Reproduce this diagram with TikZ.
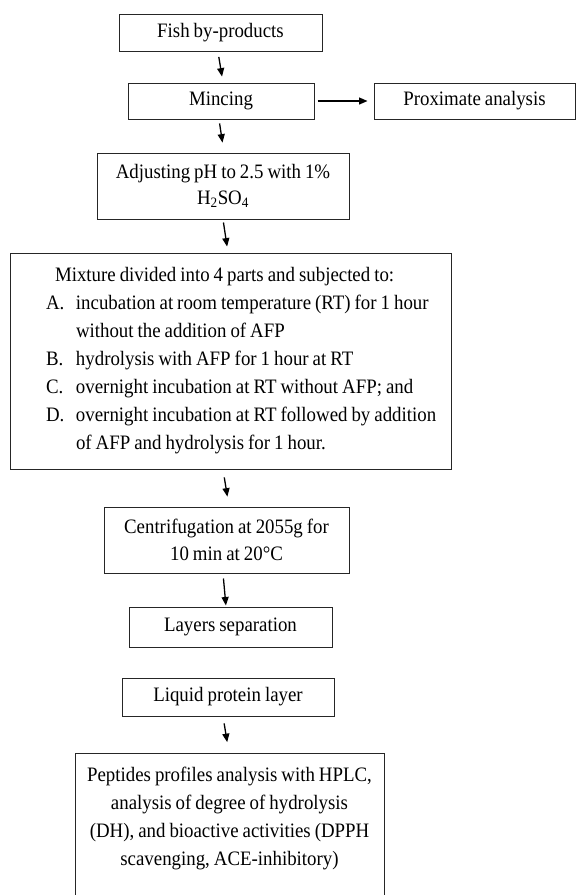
\documentclass[tikz,border=0pt]{standalone}
\usepackage{fontspec}
\setmainfont{Liberation Serif}[FakeStretch=0.92, WordSpace=0.85]
\usetikzlibrary{arrows.meta}
\newcommand{\boxfont}{\fontsize{20.5}{28}\selectfont}
\newcommand{\tightfont}{\fontsize{20.5}{26.5}\selectfont}
\newcommand{\mixline}[2]{\makebox[441pt][l]{\hspace*{#1}#2}}
\newcommand{\mixitem}[2]{\makebox[441pt][l]{\hspace*{36pt}\makebox[30pt][l]{#1}#2}}
\tikzset{
  flowbox/.style={draw=black!85, line width=1pt, inner sep=0pt, align=center, font=\boxfont},
  flowarr/.style={-{Triangle[length=8.5pt,width=7pt]}, line width=1.3pt, black}
}
\begin{document}
\begin{tikzpicture}[x=1pt,y=-1pt]
\useasboundingbox (0,0) rectangle (576,895);
\clip (0,0) rectangle (576,895);
\fill[white] (0,0) rectangle (576,895);

\node[flowbox, minimum width=203pt, minimum height=37pt] (fish) at (220.5,33) {Fish by-products};
\node[flowbox, minimum width=186pt, minimum height=36pt] (mince) at (221,101) {Mincing};
\node[flowbox, minimum width=201pt, minimum height=36pt] (prox) at (474.5,101) {Proximate analysis};
\node[flowbox, font=\tightfont, minimum width=252pt, minimum height=66pt] (ph) at (223,186) {Adjusting pH to 2.5 with 1\%\\H\textsubscript{2}SO\textsubscript{4}};
\node[flowbox, align=left, minimum width=441pt, minimum height=216pt] (mix) at (230.5,361) {%
\mixline{45pt}{Mixture divided into 4 parts and subjected to:}\\
\mixitem{A.}{incubation at room temperature (RT) for 1 hour}\\
\mixline{66pt}{without the addition of AFP}\\
\mixitem{B.}{hydrolysis with AFP for 1 hour at RT}\\
\mixitem{C.}{overnight incubation at RT without AFP; and}\\
\mixitem{D.}{overnight incubation at RT followed by addition}\\
\mixline{66pt}{of AFP and hydrolysis for 1 hour.}};
\node[flowbox, font=\tightfont, minimum width=245pt, minimum height=66pt] (cent) at (226.5,540) {Centrifugation at 2055g for\\10 min at 20°C};
\node[flowbox, minimum width=203pt, minimum height=40pt] (layers) at (230.5,627) {Layers separation};
\node[flowbox, minimum width=212pt, minimum height=38pt] (liquid) at (228,697) {Liquid protein layer};
\node[flowbox, anchor=north, minimum width=309pt, inner ysep=14pt] (pep) at (229.5,753) {Peptides profiles analysis with HPLC,\\analysis of degree of hydrolysis\\(DH), and bioactive activities (DPPH\\scavenging, ACE-inhibitory)\rule[-70pt]{0pt}{70pt}};

\draw[flowarr, shorten <=5pt, shorten >=6pt] ([xshift=-2.5pt]fish.south) -- ([xshift=2pt]mince.north);
\draw[flowarr, shorten <=4pt, shorten >=10pt] ([xshift=-2pt]mince.south) -- ([xshift=1pt]ph.north);
\draw[flowarr, shorten <=3pt, shorten >=6pt] (ph.south) -- ([xshift=-2.5pt]mix.north);
\draw[flowarr, shorten <=8pt, shorten >=10pt] ([xshift=-7.5pt]mix.south) -- ([xshift=2.5pt]cent.north);
\draw[flowarr, shorten <=5pt, shorten >=1pt] ([xshift=-3.5pt]cent.south) -- ([xshift=-4.5pt]layers.north);
\draw[flowarr, shorten <=7pt, shorten >=11pt] ([xshift=-5pt]liquid.south) -- ([xshift=-0.5pt]pep.north);
\draw[flowarr, shorten <=3pt, shorten >=6pt] (mince.east) -- (prox.west);
\end{tikzpicture}
\end{document}
